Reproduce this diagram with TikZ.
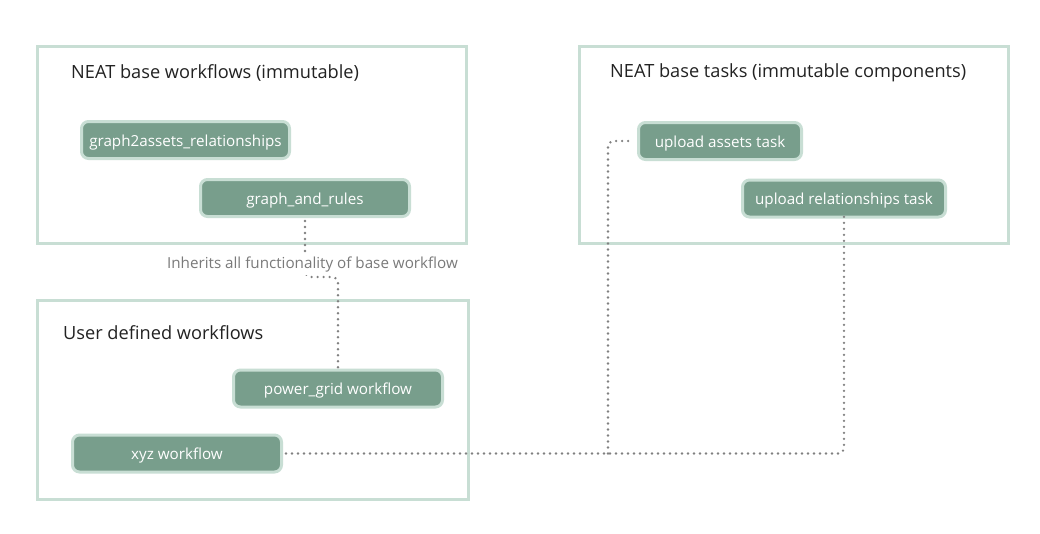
\documentclass[tikz,border=0pt]{standalone}
\usepackage{fontspec}
\setmainfont{Open Sans}
\begin{document}
\begin{tikzpicture}[x=1pt,y=-1pt,
  frame/.style={draw=frameC, line width=3pt},
  title/.style={anchor=west, inner sep=0pt, text=titleC, font=\fontsize{18.2}{22}\selectfont},
  wf/.style={draw=nodeB, fill=nodeF, line width=3pt, rounded corners=7pt,
    minimum height=37pt, text=white, inner sep=0pt, text height=12.5pt, text depth=0pt,
    font=\fontsize{15.2}{18}\selectfont},
  link/.style={draw=linkC, line width=2.6pt, line cap=round, dash pattern=on 0pt off 6pt, rounded corners=6pt},
  lbl/.style={fill=white, text=labelC, inner sep=2pt, font=\fontsize{15.2}{18}\selectfont}]
\definecolor{frameC}{HTML}{C8DED4}
\definecolor{nodeB}{HTML}{C8DED4}
\definecolor{nodeF}{HTML}{789E8C}
\definecolor{linkC}{HTML}{808080}
\definecolor{labelC}{HTML}{7A7A7A}
\definecolor{titleC}{HTML}{222222}
\useasboundingbox[fill=white] (0,0) rectangle (1040,533);

% frames
\draw[frame] (37,46) rectangle (466,243);
\draw[frame] (579,46) rectangle (1008,243);
\draw[frame] (37,300) rectangle (468,499);

% titles
\node[title] (t1) at (71,72.5) {NEAT base workflows (immutable)};
\node[title] (t2) at (610,72.5) {NEAT base tasks (immutable components)};
\node[title] (t3) at (63,332.5) {User defined workflows};

% nodes
\node[wf, minimum width=208pt] (ga) at (185.5,140) {graph2assets\_relationships};
\node[wf, minimum width=209pt] (gr) at (305,198) {graph\_and\_rules};
\node[wf, minimum width=163pt] (ua) at (720,141) {upload assets task};
\node[wf, minimum width=203pt] (ur) at (844,198.5) {upload relationships task};
\node[wf, minimum width=209pt] (pg) at (338,388.5) {power\_grid workflow};
\node[wf, minimum width=209pt] (xyz) at (177,453.5) {xyz workflow};

% connectors
\coordinate (bend) at (305,277);
\draw[link, shorten <=3pt] (gr.south) -- (bend) -- (pg.north |- bend) -- (pg.north);
\node[lbl] (inh) at (312.5,265) {Inherits all functionality of base workflow};

\coordinate (j) at (608,453.5);
\draw[link, shorten <=3pt] (xyz.east) -- (ur.south |- xyz.east) -- ([yshift=2pt]ur.south);
\draw[link, shorten >=5pt] (j) -- (j |- ua.west) -- (ua.west);
\end{tikzpicture}
\end{document}
